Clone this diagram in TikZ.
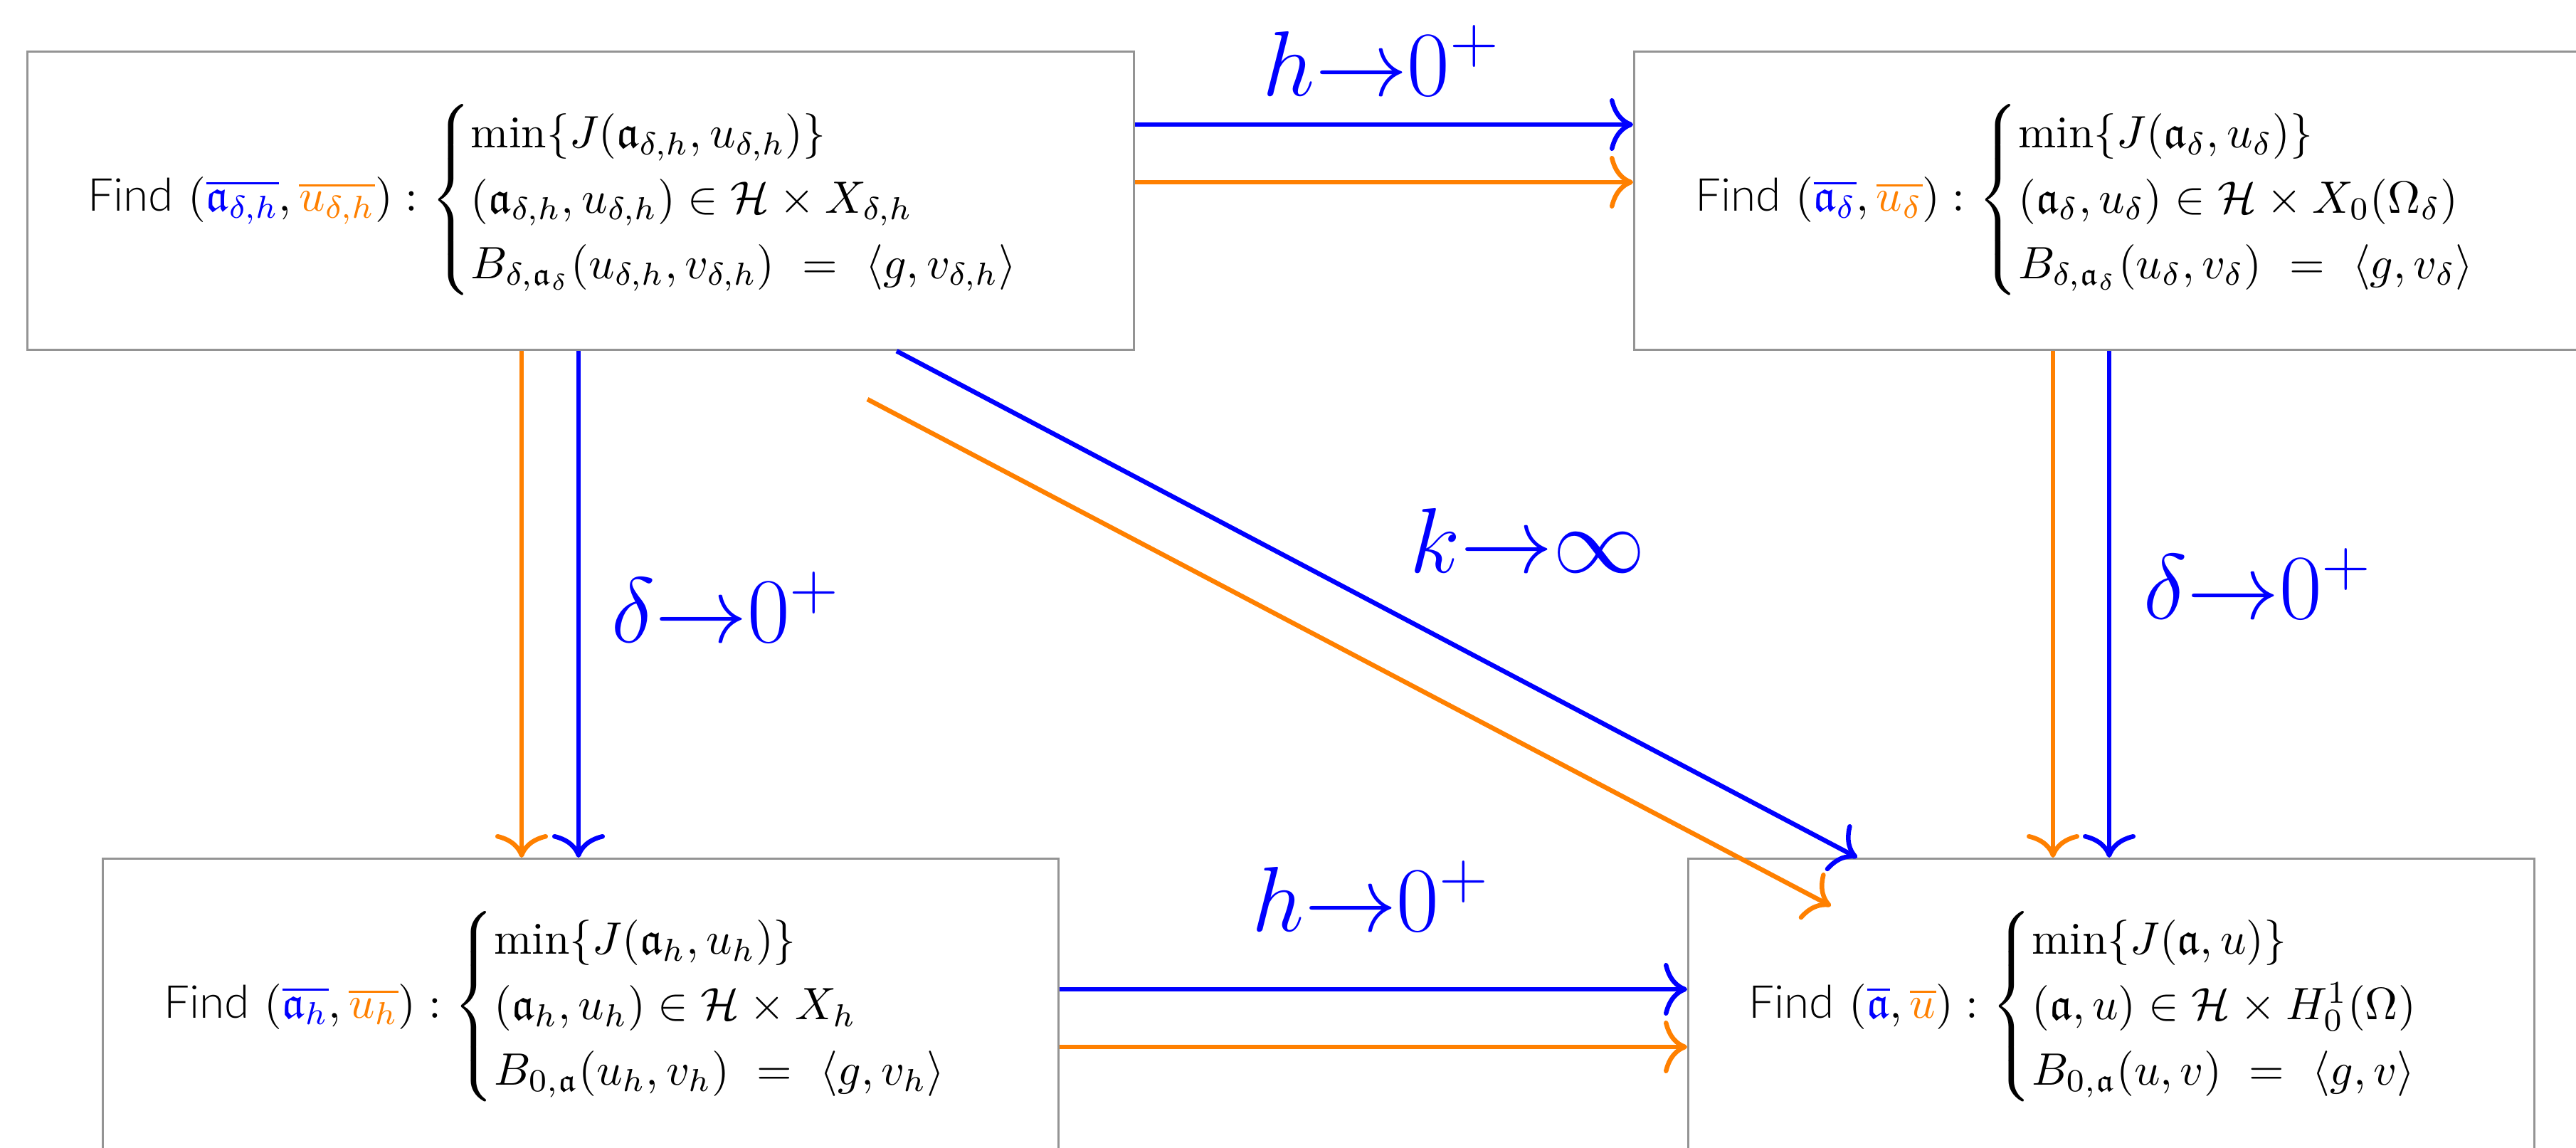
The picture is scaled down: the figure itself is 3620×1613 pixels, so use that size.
\documentclass[tikz,border=0pt]{standalone}
\usepackage{amsmath,amssymb}
\usepackage{fontspec}
\newfontfamily\findfont{Lato Light}
\usetikzlibrary{arrows.meta,calc}
\definecolor{myblue}{RGB}{0,0,255}
\definecolor{myorange}{RGB}{255,128,0}
\tikzset{
  boxnode/.style={draw=black!42, line width=0.03cm, rectangle, inner sep=0pt, anchor=north west},
  content/.style={anchor=base west, inner sep=0pt, font=\normalsize, scale=1.815, transform shape},
  lbl/.style={inner sep=0pt, text=myblue, font=\huge, scale=1.78, transform shape},
  cmarrow/.style={-{Computer Modern Rightarrow[length=0.33cm,width=0.74cm]}, line width=0.065cm},
  bl/.style={cmarrow, draw=myblue},
  org/.style={cmarrow, draw=myorange},
}
\begin{document}
\begin{tikzpicture}[x=0.01cm, y=-0.01cm]
\useasboundingbox (0,0) rectangle (3620,1613);
\clip (0,0) rectangle (3620,1613);
% boxes
\node[boxnode, minimum width=15.54cm, minimum height=4.19cm] (TL) at (37,71) {};
\node[boxnode, minimum width=14.05cm, minimum height=4.19cm] (TR) at (2295,71) {};
\node[boxnode, minimum width=13.42cm, minimum height=4.95cm] (BL) at (143,1205) {};
\node[boxnode, minimum width=11.88cm, minimum height=4.95cm] (BR) at (2371,1205) {};
% contents
\node[content] (TLt) at (122,297) {{\findfont Find} $({\color{myblue}\overline{\mathfrak{a}_{\delta,h}}}, {\color{myorange}\overline{u_{\delta,h}}}) : \begin{cases} \min\{J(\mathfrak{a}_{\delta,h}, u_{\delta,h})\} \\ (\mathfrak{a}_{\delta,h}, u_{\delta,h}) \in \mathcal{H}\times X_{\delta,h} \\ B_{\delta,\mathfrak{a}_\delta}(u_{\delta,h}, v_{\delta,h}) \ = \ \langle g, v_{\delta,h}\rangle \end{cases}$};
\node[content] (TRt) at (2381,297) {{\findfont Find} $({\color{myblue}\overline{\mathfrak{a}_{\delta}}}, {\color{myorange}\overline{u_{\delta}}}) : \begin{cases} \min\{J(\mathfrak{a}_{\delta}, u_{\delta})\} \\ (\mathfrak{a}_{\delta}, u_{\delta}) \in \mathcal{H}\times X_0(\Omega_\delta) \\ B_{\delta,\mathfrak{a}_\delta}(u_{\delta}, v_{\delta}) \ = \ \langle g, v_{\delta}\rangle \end{cases}$};
\node[content] (BLt) at (229,1430) {{\findfont Find} $({\color{myblue}\overline{\mathfrak{a}_{h}}}, {\color{myorange}\overline{u_{h}}}) : \begin{cases} \min\{J(\mathfrak{a}_{h}, u_{h})\} \\ (\mathfrak{a}_{h}, u_{h}) \in \mathcal{H}\times X_{h} \\ B_{0,\mathfrak{a}}(u_{h}, v_{h}) \ = \ \langle g, v_{h}\rangle \end{cases}$};
\node[content] (BRt) at (2456,1430) {{\findfont Find} $({\color{myblue}\overline{\mathfrak{a}}}, {\color{myorange}\overline{u}}) : \begin{cases} \min\{J(\mathfrak{a}, u)\} \\ (\mathfrak{a}, u) \in \mathcal{H}\times H^1_0(\Omega) \\ B_{0,\mathfrak{a}}(u, v) \ = \ \langle g, v\rangle \end{cases}$};
% top horizontal
\draw[bl] ($(TL.north east)+(0,104)$) -- ($(TR.north west)+(0,104)$);
\draw[org] ($(TL.north east)+(0,185)$) -- ($(TR.north west)+(0,185)$);
% bottom horizontal
\draw[bl] ($(BL.north east)+(0,185)$) -- ($(BR.north west)+(0,185)$);
\draw[org] ($(BL.north east)+(0,266)$) -- ($(BR.north west)+(0,266)$);
% left vertical
\draw[org] ($(TL.south west)+(696,0)$) -- ($(BL.north west)+(590,0)$);
\draw[bl] ($(TL.south west)+(776,0)$) -- ($(BL.north west)+(670,0)$);
% right vertical
\draw[org] ($(TR.south west)+(590,0)$) -- ($(BR.north west)+(514,0)$);
\draw[bl] ($(TR.south west)+(669,0)$) -- ($(BR.north west)+(593,0)$);
% diagonal
\coordinate (ostart) at (1219,561);
\draw[bl] ($(TL.south west)+(1223,0)$) -- ($(BR.north west)+(239,0)$);
\draw[org] (ostart) -- ($(BR.north west)+(202,68)$);
% labels
\node[lbl, anchor=base] (l1) at (1942,135) {$h{\to}0^+$};
\node[lbl, anchor=base] (l2) at (2147,805) {$k{\to}\infty$};
\node[lbl, anchor=base west] (l3) at (858,903) {$\delta{\to}0^+$};
\node[lbl, anchor=base west] (l4) at (3011,870) {$\delta{\to}0^+$};
\node[lbl, anchor=base] (l5) at (1927,1309) {$h{\to}0^+$};
\end{tikzpicture}
\end{document}
